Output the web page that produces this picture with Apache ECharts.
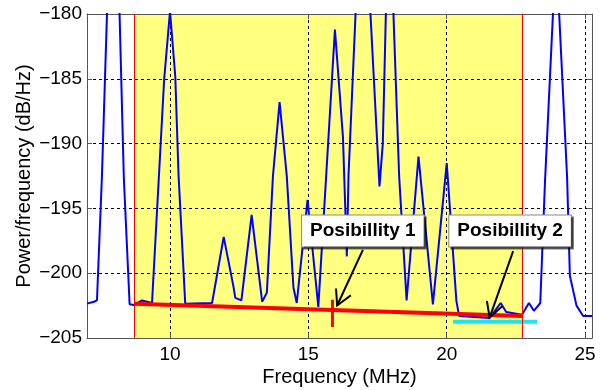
<!DOCTYPE html>
<html>
<head>
<meta charset="utf-8">
<script src="https://cdn.jsdelivr.net/npm/echarts@6/dist/echarts.min.js"></script>
<style>
  html, body { margin: 0; padding: 0; background: #fff; }
  #chart { width: 604px; height: 390px; }
</style>
</head>
<body>
<div id="chart"></div>
<script>
// spectrum trace (MHz, dB/Hz)
const freq = [7.0, 7.25, 7.36, 7.54, 7.97, 8.33, 8.54, 8.7, 8.99, 9.35, 9.79, 10.0, 10.19, 10.31, 10.55,
  11.52, 11.94, 12.29, 12.36, 12.58, 12.95, 13.33, 13.5, 13.72, 13.96, 14.22, 14.46, 14.58, 14.97, 15.36,
  15.96, 16.25, 16.39, 16.45, 16.95, 17.57, 17.69, 17.91, 18.28, 18.55, 18.98, 19.5, 20.0, 20.35, 20.45,
  21.55, 21.95, 22.15, 22.72, 22.97, 23.15, 23.38, 23.55, 23.95, 24.35, 24.45, 24.69, 24.93, 25.25];
const psd = [-202.35, -202.2, -202.1, -192.5, -163, -192.6, -202.4, -202.45, -202.1, -202.3, -185, -179.8, -184.8, -192.5, -202.35,
  -202.3, -197.2, -201.0, -201.9, -202.1, -195.5, -202.2, -201.5, -192.5, -186.8, -192.5, -201.1, -202.3, -194.35, -202.6,
  -181.2, -189.5, -198.7, -192.5, -168, -193.3, -190, -170, -192.5, -202.1, -191.0, -202.4, -191.5, -202.15, -203.3,
  -203.45, -202.3, -203.0, -203.2, -202.3, -202.9, -202.3, -193, -175, -192.6, -200.2, -202.5, -203.3, -203.3];

// highlighted band and the two noise floor guesses
const bandEdges = [8.7, 22.73];
const fitX = [8.7, 22.73];
const fitY = [-202.35, -203.3];
const markX = [15.87, 15.87];
const markY = [-202.05, -204.15];
const floorX = [20.23, 23.27];
const floorY = [-203.74, -203.74];

// annotations
const noteText = ['Posibillity 1', 'Posibillity 2'];
const noteX = [16.97, 22.29];
const noteY = [-196.75, -196.75];
const arrowFromX = [16.97, 22.40];
const arrowFromY = [-198.2, -198.3];
const arrowToX = [16.04, 21.55];
const arrowToY = [-202.49, -203.43];

const fontFamily = '"Liberation Sans", Arial, sans-serif';
const axisColor = '#555';
const minus = v => (v < 0 ? '\u2212' + Math.abs(v) : String(v));

const chart = echarts.init(document.getElementById('chart'));

function renderArrow(params, api) {
  const p0 = api.coord([api.value(0), api.value(1)]);
  const p1 = api.coord([api.value(2), api.value(3)]);
  const ang = Math.atan2(p1[1] - p0[1], p1[0] - p0[0]);
  const len = 17, spread = 0.5;
  const h1 = [p1[0] - len * Math.cos(ang - spread), p1[1] - len * Math.sin(ang - spread)];
  const h2 = [p1[0] - len * Math.cos(ang + spread), p1[1] - len * Math.sin(ang + spread)];
  return {
    type: 'group',
    children: [
      { type: 'line', shape: { x1: p0[0], y1: p0[1], x2: p1[0], y2: p1[1] }, style: { stroke: '#000', lineWidth: 2 } },
      { type: 'polyline', shape: { points: [h1, p1, h2] }, style: { stroke: '#000', lineWidth: 2, fill: null } }
    ]
  };
}

function renderNote(params, api) {
  const p = api.coord([api.value(0), api.value(1)]);
  return {
    type: 'text',
    x: p[0],
    y: p[1],
    style: {
      text: noteText[params.dataIndex],
      font: 'bold 19px ' + fontFamily,
      fill: '#000',
      align: 'center',
      verticalAlign: 'middle',
      backgroundColor: '#fff',
      borderColor: '#8a8a8a',
      borderWidth: 1,
      padding: [6, 8, 6, 8],
      shadowColor: 'rgba(0,0,0,0.55)',
      shadowOffsetX: 2,
      shadowOffsetY: 2,
      shadowBlur: 0
    }
  };
}

const option = {
  animation: false,
  grid: { left: 87, right: 12, top: 14, bottom: 52, containLabel: false, outerBoundsMode: 'none' },
  xAxis: [{
    type: 'value', min: 7, max: 25.25, splitNumber: 4, z: 1.5,
    name: 'Frequency (MHz)', nameLocation: 'middle', nameGap: 29, nameMoveOverlap: false,
    nameTextStyle: { fontFamily: fontFamily, fontSize: 20, color: '#000' },
    axisLine: { show: true, onZero: false, lineStyle: { color: axisColor, width: 1 } },
    axisTick: { show: true, inside: true, length: 5, lineStyle: { color: axisColor } },
    axisLabel: { showMinLabel: false, showMaxLabel: false, margin: 7, fontFamily: fontFamily, fontSize: 19, color: '#000' },
    splitLine: { show: true, showMinLine: false, showMaxLine: false, lineStyle: { color: '#000', type: [3, 3], width: 1 } }
  }, {
    type: 'value', min: 7, max: 25.25, splitNumber: 4, position: 'top', z: 1.5,
    axisLine: { show: true, onZero: false, lineStyle: { color: axisColor, width: 1 } },
    axisTick: { show: true, inside: true, length: 5, lineStyle: { color: axisColor } },
    axisLabel: { show: false },
    splitLine: { show: false }
  }],
  yAxis: [{
    type: 'value', min: -205, max: -180, interval: 5, z: 1.5,
    name: 'Power/frequency (dB/Hz)', nameLocation: 'middle', nameGap: 53, nameMoveOverlap: false,
    nameTextStyle: { fontFamily: fontFamily, fontSize: 20, color: '#000' },
    axisLine: { show: true, onZero: false, lineStyle: { color: axisColor, width: 1 } },
    axisTick: { show: true, inside: true, length: 5, lineStyle: { color: axisColor } },
    axisLabel: { margin: 5, fontFamily: fontFamily, fontSize: 19, color: '#000', formatter: minus },
    splitLine: { show: true, showMinLine: false, showMaxLine: false, lineStyle: { color: '#000', type: [3, 3], width: 1 } }
  }, {
    type: 'value', min: -205, max: -180, interval: 5, position: 'right', z: 1.5,
    axisLine: { show: true, onZero: false, lineStyle: { color: axisColor, width: 1 } },
    axisTick: { show: true, inside: true, length: 5, lineStyle: { color: axisColor } },
    axisLabel: { show: false },
    splitLine: { show: false }
  }],
  series: [{
    name: 'band',
    type: 'line',
    data: [],
    markArea: {
      silent: true,
      itemStyle: { color: '#ffff80' },
      data: [[{ xAxis: bandEdges[0] }, { xAxis: bandEdges[1] }]]
    },
    markLine: {
      silent: true,
      symbol: 'none',
      label: { show: false },
      lineStyle: { color: '#ff0000', width: 1, type: 'solid' },
      data: bandEdges.map(x => ({ xAxis: x }))
    }
  }, {
    name: 'PSD',
    type: 'line',
    data: freq.map((f, i) => [f, psd[i]]),
    symbol: 'none',
    clip: true,
    lineStyle: { color: '#0000ff', width: 2 },
    z: 3
  }, {
    name: 'fit',
    type: 'line',
    data: fitX.map((x, i) => [x, fitY[i]]),
    symbol: 'none',
    lineStyle: { color: '#ff0000', width: 4 },
    z: 4
  }, {
    name: 'mark',
    type: 'line',
    data: markX.map((x, i) => [x, markY[i]]),
    symbol: 'none',
    lineStyle: { color: '#ff0000', width: 3 },
    z: 4
  }, {
    name: 'floor',
    type: 'line',
    data: floorX.map((x, i) => [x, floorY[i]]),
    symbol: 'none',
    lineStyle: { color: '#1ee6f0', width: 4 },
    z: 4
  }, {
    name: 'arrows',
    type: 'custom',
    renderItem: renderArrow,
    data: arrowFromX.map((x, i) => [x, arrowFromY[i], arrowToX[i], arrowToY[i]]),
    encode: { x: [0, 2], y: [1, 3] },
    z: 6
  }, {
    name: 'notes',
    type: 'custom',
    renderItem: renderNote,
    data: noteX.map((x, i) => [x, noteY[i]]),
    z: 7
  }]
};

chart.setOption(option);

window.addEventListener('resize', function () {
  chart.resize();
});
</script>
</body>
</html>
